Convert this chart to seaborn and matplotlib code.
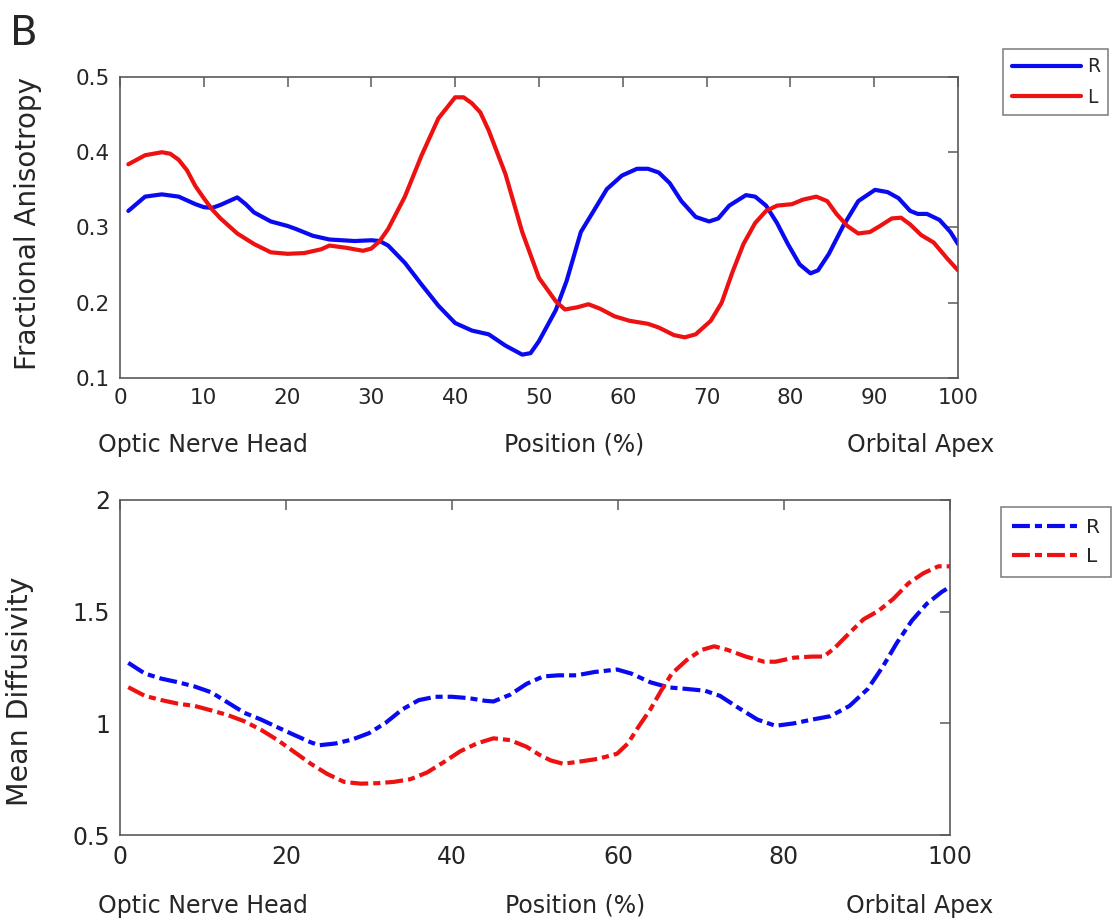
import matplotlib
matplotlib.use("Agg")
import matplotlib.pyplot as plt
import numpy as np
import seaborn as sns

# ---- FA profile (top panel) ----
fa_r_pos = [1, 3, 5, 7, 9, 10, 11, 12, 14, 15, 16, 18, 20, 21, 23, 25, 28, 30, 31, 32,
            34, 36, 38, 40, 42, 44, 46, 48, 49, 50, 52, 53.3, 55, 56.8, 58.1, 59.9, 61.7,
            63, 64.3, 65.6, 67, 68.7, 70.3, 71.4, 72.7, 74.7, 75.8, 77.1, 78.4, 79.7, 81.1,
            82.4, 83.3, 84.6, 86.3, 88.1, 90.1, 91.6, 92.9, 94.3, 95.2, 96.3, 97.8, 99.1, 100]
fa_r = [0.322, 0.341, 0.344, 0.341, 0.331, 0.327, 0.326, 0.330, 0.340, 0.331, 0.320, 0.308,
        0.302, 0.298, 0.289, 0.284, 0.282, 0.283, 0.282, 0.276, 0.253, 0.224, 0.196, 0.173,
        0.163, 0.158, 0.143, 0.131, 0.133, 0.149, 0.190, 0.229, 0.294, 0.327, 0.351, 0.369,
        0.378, 0.378, 0.373, 0.359, 0.335, 0.314, 0.308, 0.312, 0.329, 0.343, 0.341, 0.329,
        0.306, 0.278, 0.251, 0.239, 0.243, 0.265, 0.302, 0.335, 0.350, 0.347, 0.339, 0.322,
        0.318, 0.318, 0.310, 0.294, 0.278]

fa_l_pos = [1, 3, 5, 6, 7, 8, 9, 10, 11, 12, 14, 16, 18, 20, 22, 24, 25, 27, 29, 30, 31,
            32, 34, 36, 38, 40, 41, 42, 43, 44, 46, 48, 50, 52, 53.1, 54.6, 55.9, 57.3, 59,
            60.8, 63, 64.3, 66.1, 67.4, 68.7, 70.5, 71.8, 73.1, 74.4, 75.8, 77.1, 78.4, 80.2,
            81.5, 83.1, 84.4, 85.5, 86.8, 88.1, 89.5, 90.7, 92.1, 93.2, 94.3, 95.6, 97.1,
            98.7, 100]
fa_l = [0.384, 0.396, 0.400, 0.398, 0.390, 0.376, 0.355, 0.339, 0.324, 0.312, 0.292, 0.278,
        0.267, 0.265, 0.266, 0.271, 0.276, 0.273, 0.269, 0.272, 0.282, 0.298, 0.341, 0.396,
        0.445, 0.473, 0.473, 0.465, 0.453, 0.429, 0.371, 0.294, 0.233, 0.202, 0.191, 0.194,
        0.198, 0.192, 0.182, 0.176, 0.172, 0.167, 0.157, 0.154, 0.158, 0.176, 0.200, 0.241,
        0.278, 0.306, 0.322, 0.329, 0.331, 0.337, 0.341, 0.335, 0.318, 0.302, 0.292, 0.294,
        0.302, 0.312, 0.313, 0.304, 0.290, 0.280, 0.259, 0.243]

# ---- MD profile (bottom panel) ----
md_r_pos = [1, 3, 5, 7, 9, 11, 13, 15, 17, 19, 21, 23, 24, 26, 28, 30, 32, 34, 36, 38, 40,
            42, 44, 45, 47, 49, 51, 52.8, 55, 57.2, 59.9, 61.6, 63.9, 66.1, 68.3, 70.5, 72.3,
            74.5, 76.8, 79, 81.2, 83.4, 85.6, 87.9, 90.1, 91.9, 93.6, 95.4, 97.2, 99, 100]
md_r = [1.271, 1.223, 1.200, 1.184, 1.165, 1.139, 1.093, 1.047, 1.017, 0.982, 0.948, 0.915,
        0.902, 0.910, 0.928, 0.956, 1.002, 1.062, 1.104, 1.119, 1.119, 1.113, 1.101, 1.098,
        1.128, 1.177, 1.210, 1.215, 1.215, 1.230, 1.241, 1.223, 1.184, 1.161, 1.154, 1.146,
        1.123, 1.070, 1.017, 0.989, 1.000, 1.017, 1.032, 1.078, 1.154, 1.253, 1.360, 1.459,
        1.535, 1.588, 1.611]

md_l_pos = [1, 3, 5, 7, 9, 11, 13, 15, 17, 19, 21, 23, 25, 27, 29, 31, 33, 35, 37, 39, 41,
            43, 45, 47, 49, 50.5, 51.9, 53.4, 55.4, 57.6, 59.9, 61.2, 62.5, 63.9, 65.2, 66.5,
            68.3, 70.1, 71.6, 73.2, 75.4, 77.6, 79, 81.2, 83.4, 84.8, 86.1, 87.9, 89.6, 91.4,
            93.2, 95, 96.8, 98.6, 100]
md_l = [1.162, 1.123, 1.104, 1.088, 1.078, 1.058, 1.037, 1.009, 0.971, 0.925, 0.872, 0.819,
        0.773, 0.738, 0.730, 0.732, 0.738, 0.750, 0.780, 0.826, 0.875, 0.910, 0.933, 0.925,
        0.895, 0.860, 0.834, 0.819, 0.829, 0.841, 0.864, 0.910, 0.986, 1.062, 1.146, 1.223,
        1.284, 1.329, 1.345, 1.329, 1.299, 1.276, 1.276, 1.294, 1.299, 1.299, 1.337, 1.405,
        1.466, 1.504, 1.558, 1.627, 1.672, 1.703, 1.703]

blue = '#0a0af0'
red = '#ee1111'
edge = '#5a5a5a'
dash_dot = (4.3, 1.2, 1.7, 1.2)

sns.set_style('white')
plt.rcParams['font.family'] = ['DejaVu Sans']


def style_axes(ax, fs):
    ax.tick_params(direction='in', top=True, right=True, length=7, width=1.1,
                   color=edge, labelsize=fs, labelcolor='#262626', pad=7)
    for s in ax.spines.values():
        s.set_color(edge)
        s.set_linewidth(1.2)
    ax.set_xlabel('')


def add_position_labels(ax, xs, y, fs):
    ax.text(xs[0], y, 'Optic Nerve Head', transform=ax.transAxes, ha='center', va='baseline', fontsize=fs)
    ax.text(xs[1], y, 'Position (%)', transform=ax.transAxes, ha='center', va='baseline', fontsize=fs)
    ax.text(xs[2], y, 'Orbital Apex', transform=ax.transAxes, ha='center', va='baseline', fontsize=fs)


def style_legend(leg):
    leg.get_frame().set_edgecolor(edge)
    leg.get_frame().set_linewidth(1.1)


fig = plt.figure(figsize=(11.19, 9.23), dpi=100)

# top panel
ax1 = fig.add_axes([0.1072, 0.5905, 0.7489, 0.3261])
sns.lineplot(x=fa_r_pos, y=fa_r, ax=ax1, color=blue, linewidth=3.0, label='R')
sns.lineplot(x=fa_l_pos, y=fa_l, ax=ax1, color=red, linewidth=3.0, label='L')
ax1.set_xlim(0, 100)
ax1.set_ylim(0.1, 0.5)
ax1.set_xticks(np.arange(0, 101, 10))
ax1.set_yticks([0.1, 0.2, 0.3, 0.4, 0.5])
ax1.set_yticklabels(['0.1', '0.2', '0.3', '0.4', '0.5'])
style_axes(ax1, 15.5)
ax1.set_ylabel('Fractional Anisotropy', fontsize=20)
ax1.yaxis.set_label_coords(-0.093, 0.512)
add_position_labels(ax1, [0.099, 0.542, 0.955], -0.245, 17)
leg1 = ax1.legend(loc='upper left', bbox_to_anchor=(1.054, 1.093), frameon=True, fancybox=False,
                  handlelength=3.7, handletextpad=0.3, borderaxespad=0, fontsize=13.5,
                  borderpad=0.45, labelspacing=0.6)
style_legend(leg1)

# bottom panel
ax2 = fig.add_axes([0.1072, 0.0953, 0.7417, 0.3630])
sns.lineplot(x=md_r_pos, y=md_r, ax=ax2, color=blue, linewidth=3.0, label='R')
sns.lineplot(x=md_l_pos, y=md_l, ax=ax2, color=red, linewidth=3.0, label='L')
for ln in ax2.get_lines():
    ln.set_dashes(dash_dot)
ax2.set_xlim(0, 100)
ax2.set_ylim(0.5, 2)
ax2.set_xticks(np.arange(0, 101, 20))
ax2.set_yticks([0.5, 1, 1.5, 2])
ax2.set_yticklabels(['0.5', '1', '1.5', '2'])
style_axes(ax2, 17)
ax2.set_ylabel('Mean Diffusivity', fontsize=20.5)
ax2.yaxis.set_label_coords(-0.104, 0.43)
add_position_labels(ax2, [0.1, 0.548, 0.963], -0.232, 17)
leg2 = ax2.legend(loc='upper left', bbox_to_anchor=(1.061, 0.979), frameon=True, fancybox=False,
                  handlelength=3.4, handletextpad=0.3, borderaxespad=0, fontsize=14.5,
                  borderpad=0.55, labelspacing=0.5)
for h in leg2.get_lines():
    h.set_dashes(dash_dot)
style_legend(leg2)

fig.text(0.009, 0.985, 'B', fontsize=29, ha='left', va='top')

fig.savefig('out.png', dpi=100, facecolor='white')
